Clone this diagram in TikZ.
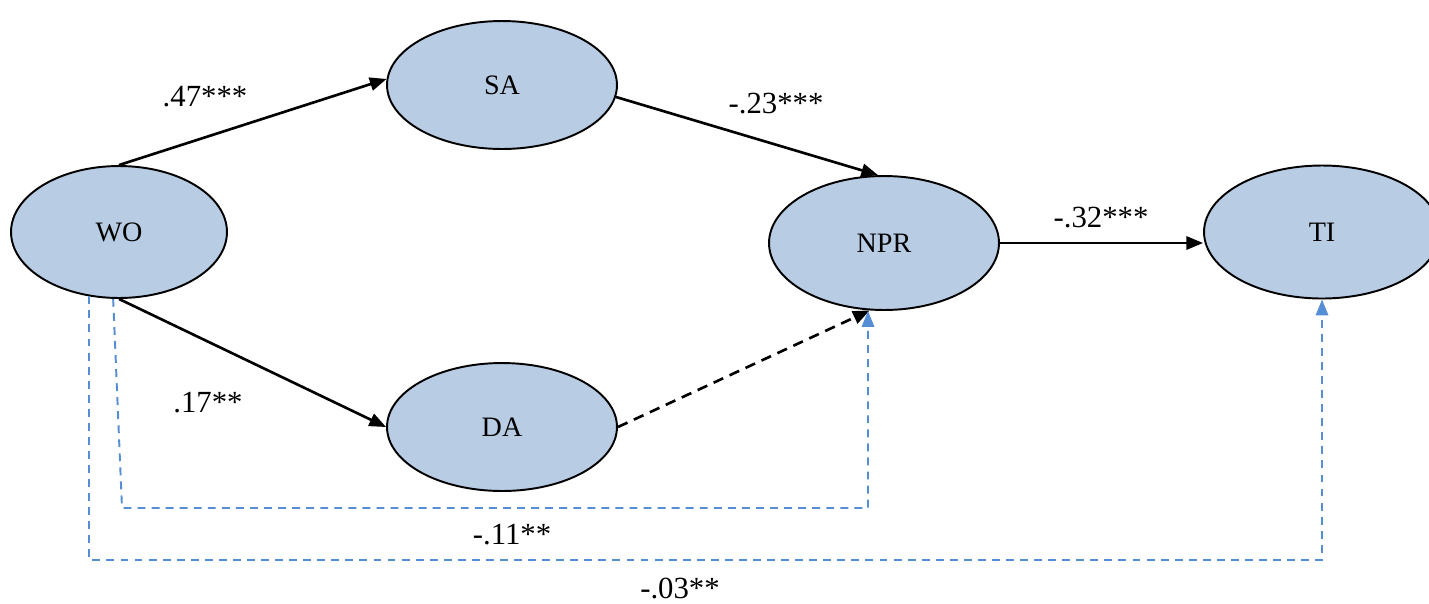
\documentclass[tikz,border=0pt]{standalone}
\usepackage{fontspec}
\setmainfont{Liberation Serif}
\usetikzlibrary{shapes.geometric,arrows.meta}
\definecolor{nodefill}{HTML}{B8CCE4}
\definecolor{dashblue}{HTML}{558ED5}
\begin{document}
\begin{tikzpicture}[x=0.02cm,y=-0.02cm,
  var/.style={ellipse,draw=black,line width=1.1pt,fill=nodefill,inner sep=0pt,
    font=\fontsize{16}{19}\selectfont},
  coef/.style={font=\fontsize{17.5}{21}\selectfont,inner sep=0pt},
  path1/.style={line width=1.5pt,-{Triangle[length=9.5pt,width=7.5pt]}},
  path2/.style={line width=1.5pt,dash pattern=on 6pt off 4pt,-{Triangle[length=9.5pt,width=7.5pt]}},
  indirect/.style={draw=dashblue,line width=1.1pt,dash pattern=on 4.5pt off 3.5pt,
    -{Triangle[length=9pt,width=7pt,fill=dashblue]}}]
\useasboundingbox (0,0) rectangle (1429,603);
\node[var,minimum width=4.32cm,minimum height=2.64cm] (WO) at (119,232) {WO};
\node[var,minimum width=4.6cm,minimum height=2.56cm] (SA) at (502,85) {SA};
\node[var,minimum width=4.6cm,minimum height=2.56cm] (DA) at (502,427) {DA};
\node[var,minimum width=4.6cm,minimum height=2.68cm] (NPR) at (884,243) {NPR};
\node[var,minimum width=4.72cm,minimum height=2.66cm] (TI) at (1322,232) {TI};

\draw[path1] (WO.north) -- (SA.177);
\draw[path1] (SA.-6) -- (NPR.95);
\draw[path1] (WO.south) -- (DA.west);
\draw[path2] (DA.east) -- (NPR.-102);
\draw[path1] (NPR.east) -- (NPR.east -| TI.west);

\coordinate (b1) at (122,508);
\coordinate (b2) at (868,508);
\coordinate (c1) at (1322,560);
\draw[indirect] (WO.-95) -- (b1) -- (b2) -- (b2 |- NPR.south);
\draw[indirect] (WO.-115) |- (c1) -- (TI.south);

\node[coef] (l1) at (205,97) {.47***};
\node[coef] (l2) at (776,104) {-.23***};
\node[coef] (l3) at (208,403) {.17**};
\node[coef] (l4) at (1101,218) {-.32***};
\node[coef] (l5) at (512,535) {-.11**};
\node[coef] (l6) at (680,588) {-.03**};
\end{tikzpicture}
\end{document}
